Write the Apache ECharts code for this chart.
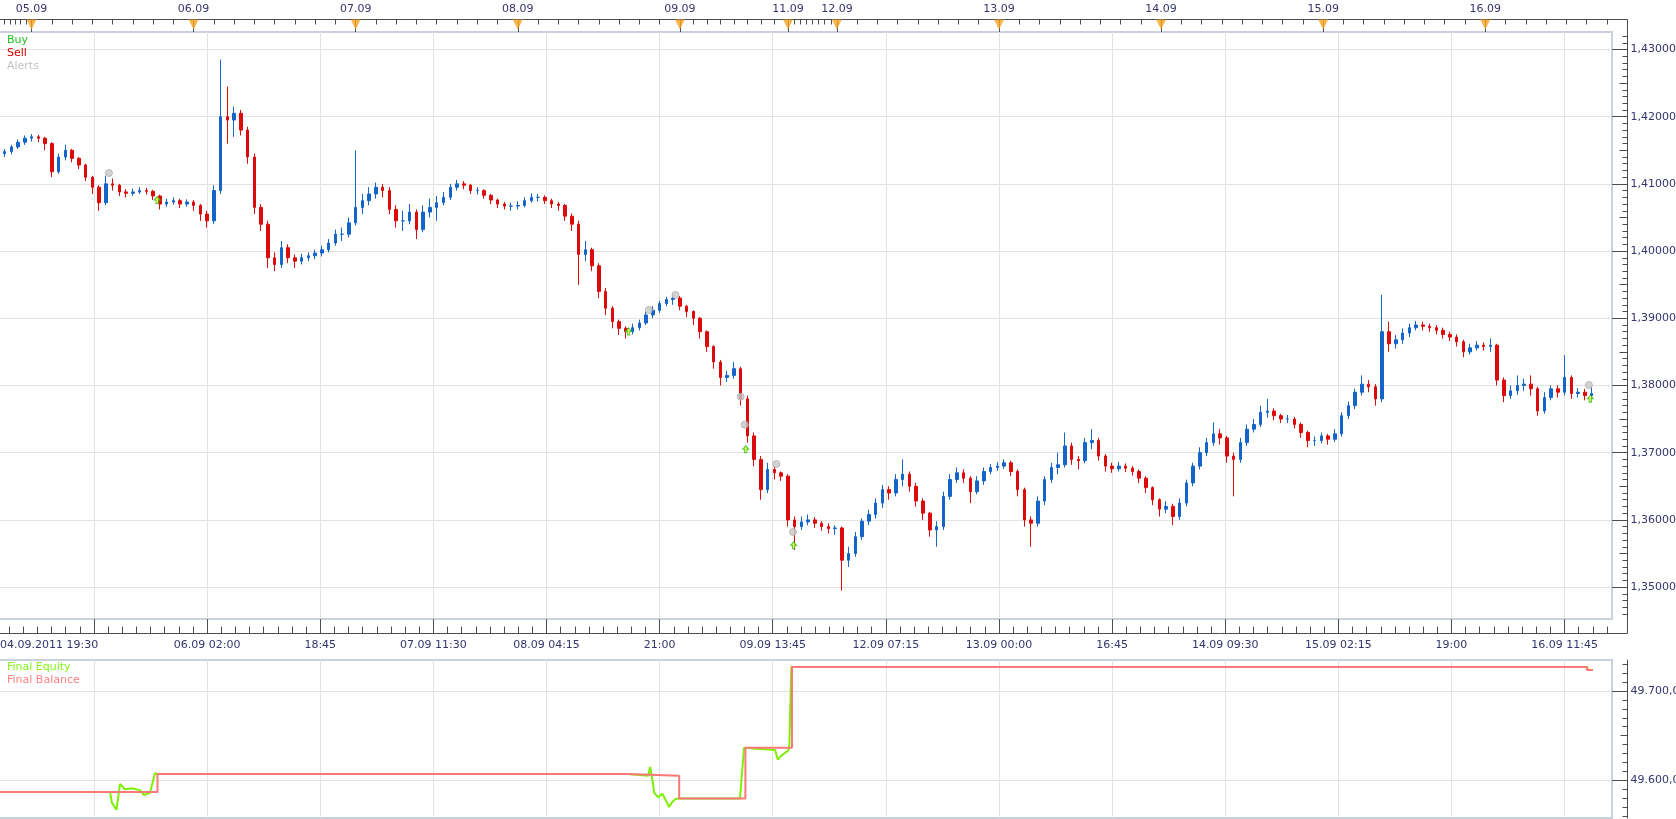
<!DOCTYPE html>
<html>
<head>
<meta charset="utf-8">
<title>Backtest chart</title>
<script src="https://cdn.jsdelivr.net/npm/echarts@6/dist/echarts.min.js"></script>
<style>
  html, body { margin: 0; padding: 0; background: #fff; }
  #chart { width: 1676px; height: 819px; }
</style>
</head>
<body>
<div id="chart"></div>
<script>
// hourly candles: open, close, low, high (price x 10000)
const candles = [
  [14145,14148,14140,14152],[14148,14155,14144,14158],[14155,14162,14152,14166],[14162,14168,14158,14172],
  [14168,14170,14163,14174],[14170,14168,14162,14173],[14168,14160,14150,14170],[14160,14118,14110,14162],
  [14118,14140,14115,14145],[14140,14150,14135,14158],[14150,14138,14132,14152],[14138,14128,14122,14140],
  [14128,14110,14104,14130],[14110,14095,14085,14112],[14095,14072,14060,14098],[14072,14100,14068,14112],
  [14100,14098,14090,14108],[14098,14088,14082,14100],[14088,14086,14080,14092],[14086,14088,14082,14093],
  [14088,14090,14085,14095],[14090,14089,14084,14094],[14089,14082,14076,14091],[14082,14070,14062,14084],
  [14070,14073,14066,14078],[14073,14075,14069,14080],[14075,14070,14064,14078],[14070,14073,14066,14077],
  [14073,14068,14060,14076],[14068,14055,14045,14070],[14055,14045,14035,14060],[14045,14090,14040,14098],
  [14090,14200,14085,14285],[14200,14195,14160,14245],[14195,14205,14170,14215],[14205,14180,14172,14210],
  [14180,14140,14130,14185],[14140,14065,14055,14145],[14065,14040,14030,14070],[14040,13990,13975,14045],
  [13990,13980,13970,13998],[13980,14005,13975,14015],[14005,13990,13982,14010],[13990,13985,13975,13995],
  [13985,13990,13980,13996],[13990,13993,13985,13998],[13993,13997,13988,14002],[13997,14002,13992,14008],
  [14002,14012,13998,14018],[14012,14025,14008,14032],[14025,14025,14015,14035],[14025,14042,14020,14050],
  [14042,14065,14038,14150],[14065,14075,14055,14085],[14075,14085,14068,14095],[14085,14095,14078,14102],
  [14095,14090,14080,14100],[14090,14062,14055,14095],[14062,14045,14035,14068],[14045,14045,14030,14060],
  [14045,14058,14040,14070],[14058,14032,14018,14062],[14032,14058,14028,14068],[14058,14065,14050,14078],
  [14065,14072,14045,14082],[14072,14080,14068,14088],[14080,14095,14076,14100],[14095,14100,14090,14106],
  [14100,14098,14092,14104],[14098,14090,14085,14100],[14090,14090,14084,14095],[14090,14083,14078,14092],
  [14083,14076,14070,14085],[14076,14070,14064,14078],[14070,14067,14062,14073],[14067,14067,14060,14072],
  [14067,14068,14062,14074],[14068,14075,14065,14080],[14075,14080,14072,14086],[14080,14080,14074,14085],
  [14080,14075,14070,14083],[14075,14070,14064,14078],[14070,14068,14060,14073],[14068,14052,14045,14070],
  [14052,14040,14030,14056],[14040,13995,13950,14045],[13995,14002,13985,14015],[14002,13978,13970,14005],
  [13978,13940,13930,13982],[13940,13915,13905,13945],[13915,13895,13885,13918],[13895,13885,13875,13898],
  [13885,13880,13870,13888],[13880,13886,13876,13892],[13886,13893,13882,13898],[13893,13905,13890,13910],
  [13905,13912,13900,13918],[13912,13922,13908,13926],[13922,13928,13918,13932],[13928,13930,13920,13935],
  [13930,13918,13912,13933],[13918,13910,13902,13920],[13910,13900,13890,13912],[13900,13880,13870,13902],
  [13880,13858,13850,13882],[13858,13835,13825,13860],[13835,13812,13800,13838],[13812,13815,13805,13822],
  [13815,13825,13810,13835],[13825,13780,13770,13828],[13780,13725,13715,13785],[13725,13690,13680,13730],
  [13690,13645,13630,13695],[13645,13675,13640,13685],[13675,13670,13660,13680],[13670,13665,13658,13672],
  [13665,13600,13590,13668],[13600,13590,13555,13605],[13590,13597,13585,13605],[13597,13600,13592,13608],
  [13600,13595,13588,13604],[13595,13590,13584,13598],[13590,13587,13580,13595],[13587,13588,13578,13592],
  [13588,13540,13495,13590],[13540,13550,13530,13560],[13550,13575,13545,13582],[13575,13598,13570,13602],
  [13598,13608,13592,13615],[13608,13625,13602,13632],[13625,13645,13618,13652],[13645,13640,13630,13650],
  [13640,13660,13635,13668],[13660,13668,13650,13690],[13668,13650,13642,13672],[13650,13628,13620,13655],
  [13628,13610,13600,13632],[13610,13585,13575,13612],[13585,13590,13560,13598],[13590,13635,13585,13642],
  [13635,13660,13630,13668],[13660,13670,13655,13678],[13670,13662,13655,13675],[13662,13642,13625,13665],
  [13642,13658,13638,13665],[13658,13672,13652,13678],[13672,13678,13668,13683],[13678,13680,13673,13686],
  [13680,13685,13676,13690],[13685,13672,13665,13688],[13672,13645,13635,13675],[13645,13600,13590,13648],
  [13600,13595,13560,13605],[13595,13628,13590,13635],[13628,13660,13622,13665],[13660,13678,13655,13685],
  [13678,13682,13668,13700],[13682,13710,13678,13730],[13710,13690,13682,13715],[13690,13688,13675,13695],
  [13688,13715,13684,13722],[13715,13718,13705,13735],[13718,13695,13688,13722],[13695,13680,13672,13698],
  [13680,13676,13670,13685],[13676,13680,13672,13686],[13680,13677,13671,13684],[13677,13672,13666,13680],
  [13672,13662,13655,13675],[13662,13648,13640,13665],[13648,13630,13622,13650],[13630,13616,13605,13632],
  [13616,13620,13610,13628],[13620,13605,13592,13624],[13605,13625,13600,13632],[13625,13655,13620,13660],
  [13655,13680,13650,13685],[13680,13700,13675,13708],[13700,13715,13695,13722],[13715,13728,13710,13745],
  [13728,13722,13712,13735],[13722,13695,13685,13725],[13695,13690,13635,13700],[13690,13715,13685,13722],
  [13715,13735,13710,13742],[13735,13742,13730,13750],[13742,13760,13738,13770],[13760,13762,13752,13780],
  [13762,13755,13748,13766],[13755,13750,13744,13758],[13750,13750,13744,13756],[13750,13742,13736,13753],
  [13742,13730,13722,13745],[13730,13718,13708,13733],[13718,13718,13710,13724],[13718,13725,13714,13730],
  [13725,13720,13712,13728],[13720,13728,13716,13735],[13728,13755,13724,13760],[13755,13770,13750,13776],
  [13770,13790,13765,13795],[13790,13802,13785,13815],[13802,13798,13790,13808],[13798,13780,13770,13802],
  [13780,13880,13775,13935],[13880,13862,13850,13895],[13862,13868,13855,13875],[13868,13878,13862,13885],
  [13878,13886,13872,13892],[13886,13890,13882,13896],[13890,13888,13882,13895],[13888,13886,13880,13892],
  [13886,13882,13876,13890],[13882,13876,13870,13886],[13876,13872,13866,13880],[13872,13865,13858,13876],
  [13865,13850,13842,13868],[13850,13856,13846,13862],[13856,13860,13852,13866],[13860,13858,13852,13864],
  [13858,13860,13850,13870],[13860,13808,13800,13862],[13808,13785,13775,13812],[13785,13792,13780,13800],
  [13792,13800,13786,13815],[13800,13802,13792,13810],[13802,13795,13785,13815],[13795,13762,13755,13798],
  [13762,13782,13758,13790],[13782,13795,13778,13800],[13795,13790,13782,13800],[13790,13812,13785,13845],
  [13812,13788,13780,13815],[13788,13790,13782,13796],[13790,13785,13778,13795],[13785,13788,13780,13798]
];

// time is counted in trading hours from 04.09.2011 19:30 (weekend squeezed out)
const gridHours = [13.75, 30.5, 47.25, 64, 80.75, 97.5, 114.25, 131, 147.75, 164.5, 181.25, 198, 214.75, 231.5];
const gridLabels = ['', '06.09 02:00', '18:45', '07.09 11:30', '08.09 04:15', '21:00', '09.09 13:45',
  '12.09 07:15', '13.09 00:00', '16:45', '14.09 09:30', '15.09 02:15', '19:00', '16.09 11:45'];
const firstLabel = '04.09.2011 19:30';
const dayHours = [4.5, 28.5, 52.5, 76.5, 100.5, 116.5, 123.75, 147.75, 171.75, 195.75, 219.75];
const dayLabels = ['05.09', '06.09', '07.09', '08.09', '09.09', '11.09', '12.09', '13.09', '14.09', '15.09', '16.09'];
const priceTicks = [1.35, 1.36, 1.37, 1.38, 1.39, 1.40, 1.41, 1.42, 1.43];
const equityTicks = [49600, 49700];

// trade markers [hour, price]
const alerts = [[15.97, 1.41162], [95.9, 1.39124], [99.85, 1.39347], [109.5, 1.37833], [110.1, 1.37417],
  [114.8, 1.36832], [117.25, 1.35820], [235.1, 1.38007]];
const buys = [[23.1, 1.4076], [92.9, 1.38805], [110.25, 1.37051], [117.35, 1.35622], [235.3, 1.37804]];

// equity / balance [hour, value]
const equity = [[-0.47, 49587], [16.12, 49587], [16.4, 49575], [17.08, 49567], [17.6, 49596], [18.34, 49590],
  [19.37, 49591], [20.56, 49589], [21.15, 49583.5], [22.04, 49586], [22.78, 49608], [23.15, 49607],
  [92.8, 49607], [92.8, 49605], [95.8, 49605], [96.1, 49615], [96.5, 49597], [96.7, 49586], [97.3, 49581],
  [97.9, 49585], [98.6, 49575], [98.9, 49570], [99.3, 49575], [99.8, 49579], [100.4, 49579.5],
  [109.4, 49579.5], [110.0, 49636.5], [114.6, 49634], [115.0, 49623], [115.3, 49626], [116.1, 49631],
  [116.5, 49633], [116.7, 49636.5], [117.0, 49727], [234.8, 49727], [235.0, 49723.5], [235.7, 49723.5]];
const balance = [[-0.47, 49587], [23.15, 49607], [92.8, 49605], [100.4, 49579.5], [110.2, 49636.5],
  [117.1, 49727], [234.8, 49723.5], [235.7, 49723.5]];

const FONT = 'DejaVu Sans';
const TXT = '#35356e';
const AXIS = '#4d4d4d';
const GRIDLINE = '#e2e2e2';
const FRAME = '#c9d1dc';
const xMin = -0.465, xMax = 238.52;

// candle rows for a value axis: [hour, open, close, low, high]
const candleData = candles.map((c, i) => [i + 0.5, c[0] / 1e4, c[1] / 1e4, c[2] / 1e4, c[3] / 1e4]);

// small ticks
const minorHours = [];
for (let k = -1; k < gridHours.length; k++) {
  const a = k < 0 ? gridHours[0] - 16.75 : gridHours[k];
  for (let j = 1; j < 8; j++) minorHours.push(a + j * 16.75 / 8);
}
const dayEdges = [-1.9].concat(dayHours, [243.75]);
const topTicks = [];
for (let k = 0; k + 1 < dayEdges.length; k++) {
  const step = (dayEdges[k + 1] - dayEdges[k]) / 8;
  for (let j = 1; j < 8; j++) topTicks.push(dayEdges[k] + j * step);
}
const priceMinor = [], priceMid = [];
for (let k = 1345; k <= 1432; k++) {
  if (k % 10 === 0) continue;
  (k % 5 === 0 ? priceMid : priceMinor).push(k / 1000);
}
const eqMinor = [], eqMid = [];
for (let v = 49560; v <= 49730; v += 10) {
  if (v % 100 === 0) continue;
  (v % 50 === 0 ? eqMid : eqMinor).push(v);
}

function nearestLabel(v, hours, labels) {
  let best = 0;
  hours.forEach((h, i) => { if (Math.abs(h - v) < Math.abs(hours[best] - v)) best = i; });
  return labels[best];
}

const lbl = { fontFamily: FONT, fontSize: 11, color: TXT };
const noAxis = { axisLine: { show: false }, axisTick: { show: false }, axisLabel: { show: false }, splitLine: { show: false } };

function xAxisBase(gridIndex, position, extra) {
  return Object.assign({
    type: 'value', gridIndex: gridIndex, position: position, min: xMin, max: xMax,
    axisLine: { show: false, onZero: false }, axisTick: { show: false }, axisLabel: { show: false },
    splitLine: { show: false }
  }, extra);
}
function yTicks(gridIndex, min, max, values, len) {
  return {
    type: 'value', gridIndex: gridIndex, position: 'right', offset: 15.5, min: min, max: max,
    axisLine: { show: false, onZero: false },
    axisTick: { show: true, inside: true, length: len, customValues: values, lineStyle: { color: AXIS } },
    axisLabel: { show: false }, splitLine: { show: false }
  };
}

const titleStyle = (color) => ({ fontFamily: FONT, fontSize: 11, fontWeight: 'normal', color: color });

const option = {
  animation: false,
  backgroundColor: '#ffffff',
  title: [
    { text: 'Buy', left: 7, top: 35, padding: 0, textStyle: titleStyle('#1fc01f') },
    { text: 'Sell', left: 7, top: 48, padding: 0, textStyle: titleStyle('#d40000') },
    { text: 'Alerts', left: 7, top: 61, padding: 0, textStyle: titleStyle('#c3c3c3') },
    { text: 'Final Equity', left: 7, top: 661.5, padding: 0, textStyle: titleStyle('#84f51a') },
    { text: 'Final Balance', left: 7, top: 674.5, padding: 0, textStyle: titleStyle('#ff8080') }
  ],
  grid: [
    { left: -2, top: 32, right: 64, height: 587, show: true, borderColor: FRAME, borderWidth: 2, outerBoundsMode: 'none' },
    { left: -2, top: 19.5, right: 48.5, height: 614, show: true, borderColor: AXIS, borderWidth: 1, outerBoundsMode: 'none' },
    { left: -2, top: 19.5, right: 64, height: 12.5, outerBoundsMode: 'none' },
    { left: -2, top: 660, right: 64, bottom: 1, show: true, borderColor: FRAME, borderWidth: 2, outerBoundsMode: 'none' }
  ],
  xAxis: [
    xAxisBase(0, 'bottom', {
      offset: 14.5,
      axisTick: { show: true, inside: true, length: 14.5, customValues: gridHours, lineStyle: { color: AXIS } },
      axisLabel: Object.assign({ show: true, margin: 6, customValues: gridHours.slice(1),
        formatter: (v) => nearestLabel(v, gridHours, gridLabels) }, lbl),
      splitLine: { show: true, lineStyle: { color: GRIDLINE, width: 1 } }
    }),
    xAxisBase(0, 'bottom', {
      offset: 14.5,
      axisTick: { show: true, inside: true, length: 7, customValues: minorHours, lineStyle: { color: AXIS } }
    }),
    xAxisBase(0, 'bottom', {
      offset: 14.5,
      axisLabel: Object.assign({ show: true, margin: 6, align: 'left', customValues: [-0.17],
        formatter: () => firstLabel }, lbl)
    }),
    xAxisBase(1, 'bottom', {}),
    xAxisBase(2, 'top', {
      axisTick: { show: true, inside: true, length: 5, customValues: topTicks, lineStyle: { color: AXIS } },
      axisLabel: Object.assign({ show: true, margin: 5, customValues: dayHours,
        formatter: (v) => nearestLabel(v, dayHours, dayLabels) }, lbl)
    }),
    xAxisBase(2, 'top', {
      axisTick: { show: true, inside: true, length: 12.5, customValues: dayHours, lineStyle: { color: AXIS } }
    }),
    xAxisBase(3, 'bottom', {
      axisTick: { show: false, customValues: gridHours },
      splitLine: { show: true, lineStyle: { color: GRIDLINE, width: 1 } }
    })
  ],
  yAxis: [
    {
      type: 'value', gridIndex: 0, position: 'right', offset: 15.5, min: 1.34525, max: 1.43260,
      axisLine: { show: false, onZero: false },
      axisTick: { show: true, inside: true, length: 15.5, customValues: priceTicks, lineStyle: { color: AXIS } },
      axisLabel: Object.assign({ show: true, margin: 3, customValues: priceTicks,
        formatter: (v) => v.toFixed(5).replace('.', ',') }, lbl),
      splitLine: { show: true, lineStyle: { color: GRIDLINE, width: 1 } }
    },
    yTicks(0, 1.34525, 1.43260, priceMinor, 5),
    yTicks(0, 1.34525, 1.43260, priceMid, 8),
    Object.assign({ type: 'value', gridIndex: 1, min: 0, max: 1 }, noAxis),
    Object.assign({ type: 'value', gridIndex: 2, min: 0, max: 1 }, noAxis),
    {
      type: 'value', gridIndex: 3, position: 'right', offset: 15.5, min: 49557.8, max: 49734.7,
      axisLine: { show: true, onZero: false, lineStyle: { color: AXIS } },
      axisTick: { show: true, inside: true, length: 15.5, customValues: equityTicks, lineStyle: { color: AXIS } },
      axisLabel: Object.assign({ show: true, margin: 3, customValues: equityTicks,
        formatter: (v) => (v / 1000).toFixed(3) + ',00' }, lbl),
      splitLine: { show: true, lineStyle: { color: GRIDLINE, width: 1 } }
    },
    yTicks(3, 49557.8, 49734.7, eqMinor, 5),
    yTicks(3, 49557.8, 49734.7, eqMid, 7)
  ],
  series: [
    {
      type: 'candlestick', name: 'EURUSD', xAxisIndex: 0, yAxisIndex: 0,
      barWidth: 3,
      itemStyle: {
        color: '#1565c8', color0: '#dc0a0a',
        borderColor: '#1565c8', borderColor0: '#dc0a0a', borderColorDoji: '#1565c8', borderWidth: 1
      },
      data: candleData
    },
    {
      type: 'scatter', name: 'Alerts', xAxisIndex: 0, yAxisIndex: 0,
      symbol: 'circle', symbolSize: 7,
      itemStyle: { color: '#c8c8c8', borderColor: '#b0b0b0', borderWidth: 1 },
      data: alerts, z: 4
    },
    {
      type: 'scatter', name: 'Buy', xAxisIndex: 0, yAxisIndex: 0,
      symbol: 'path://M5,0 L10,5 L7,5 L7,10 L3,10 L3,5 L0,5 Z', symbolSize: [6, 7],
      itemStyle: { color: '#eeee30', borderColor: '#22c022', borderWidth: 1 },
      data: buys, z: 5
    },
    {
      type: 'scatter', name: 'days', xAxisIndex: 4, yAxisIndex: 4,
      symbol: 'triangle', symbolRotate: 180, symbolSize: [10, 10], symbolOffset: [0, 5],
      itemStyle: { color: '#f7a320' }, clip: false,
      data: dayHours.map((h) => [h, 1]), z: 5
    },
    {
      type: 'line', name: 'Final Equity', xAxisIndex: 6, yAxisIndex: 5,
      symbol: 'none', lineStyle: { color: '#7cf000', width: 2 },
      data: equity, z: 2
    },
    {
      type: 'line', name: 'Final Balance', xAxisIndex: 6, yAxisIndex: 5,
      symbol: 'none', step: 'end', lineStyle: { color: '#fa7878', width: 2 },
      data: balance, z: 3
    }
  ]
};

const chart = echarts.init(document.getElementById('chart'));
chart.setOption(option);
</script>
</body>
</html>
